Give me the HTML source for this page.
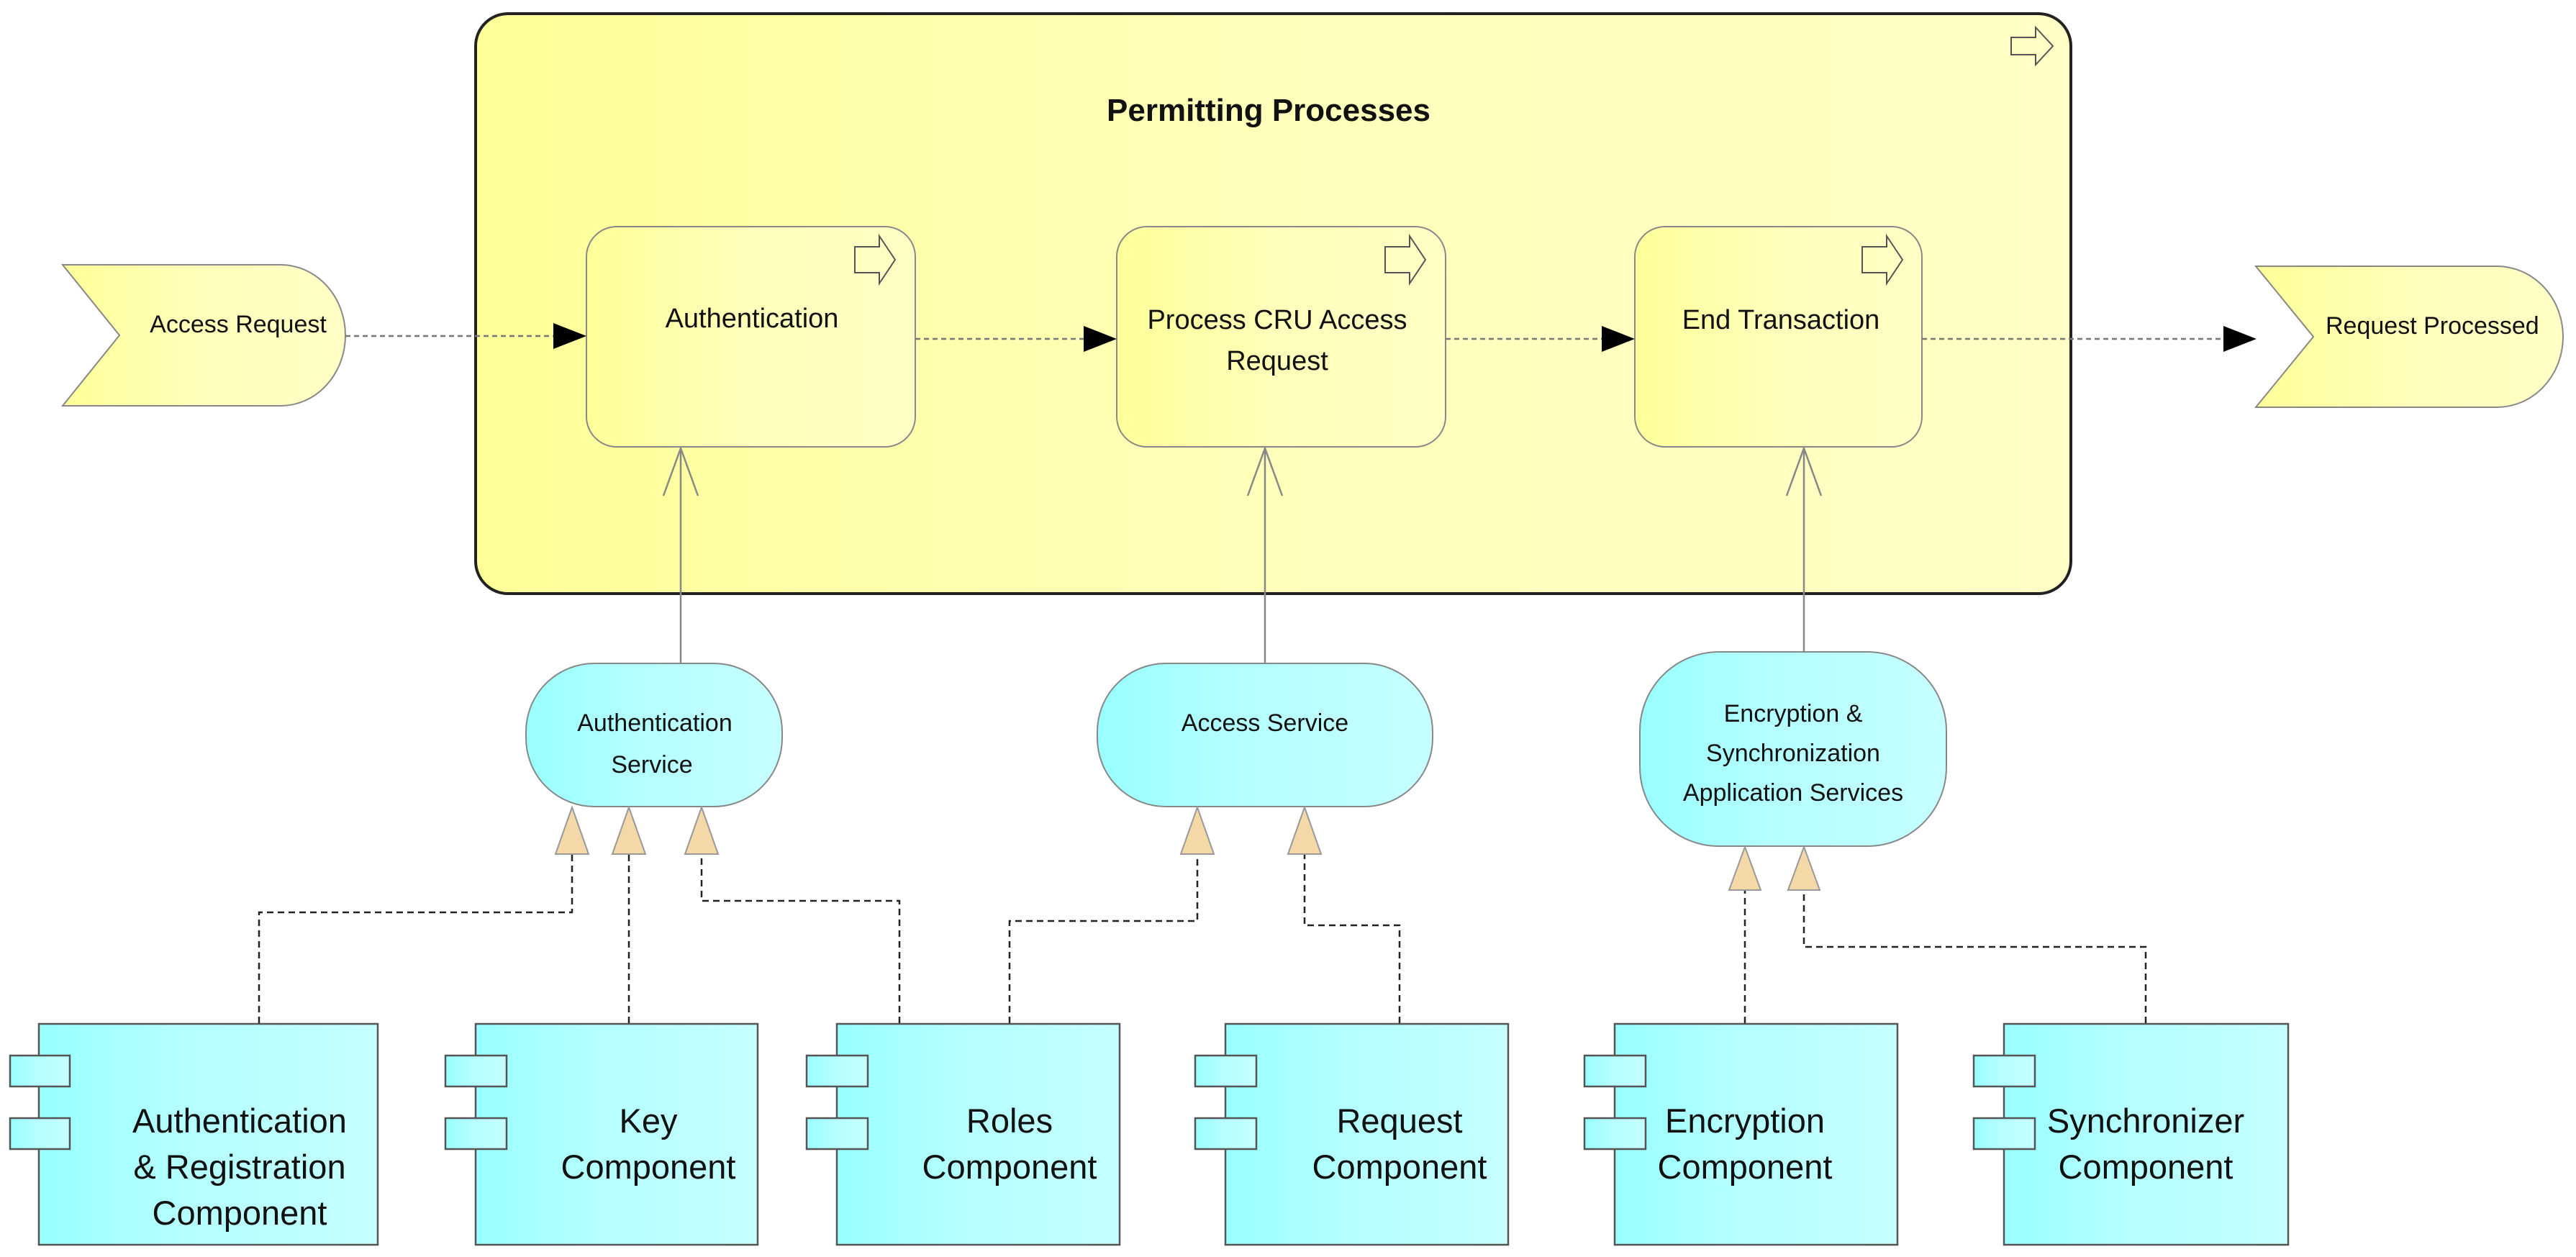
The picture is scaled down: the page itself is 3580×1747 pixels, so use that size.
<!DOCTYPE html>
<html><head><meta charset="utf-8"><style>
html,body{margin:0;padding:0;background:#fff;}
svg{display:block;}
text{font-family:"Liberation Sans Narrow","Liberation Sans",sans-serif;fill:#111;}
</style></head><body>
<svg width="3580" height="1747" viewBox="0 0 3580 1747" xmlns="http://www.w3.org/2000/svg">
<defs>
<linearGradient id="y" x1="0" x2="1" y1="0" y2="0"><stop offset="0" stop-color="#ffff99"/><stop offset="0.5" stop-color="#ffffbb"/><stop offset="1" stop-color="#ffffc6"/></linearGradient>
<linearGradient id="c" x1="0" x2="1" y1="0" y2="0"><stop offset="0" stop-color="#99ffff"/><stop offset="0.4" stop-color="#b3ffff"/><stop offset="1" stop-color="#c6ffff"/></linearGradient>
</defs>

<rect x="661" y="19" width="2217" height="806" rx="45" fill="url(#y)" stroke="#222" stroke-width="4"/>
<text x="1763" y="168" font-size="44" font-weight="bold" text-anchor="middle">Permitting Processes</text>
<path d="M2795,52 h34 v-14 l24,26 l-24,26 v-14 h-34 z" fill="none" stroke="#555" stroke-width="2"/>

<path d="M87,368 L390,368 A90,98 0 0 1 390,564 L87,564 L166,466 Z" fill="url(#y)" stroke="#888" stroke-width="2"/>
<text x="331" y="462" font-size="34" text-anchor="middle">Access Request</text>
<path d="M3135,370 L3470,370 A92,98 0 0 1 3470,566 L3135,566 L3215,468 Z" fill="url(#y)" stroke="#888" stroke-width="2"/>
<text x="3232" y="464" font-size="34">Request Processed</text>

<g stroke="#888" stroke-width="2" fill="url(#y)">
<rect x="815" y="315" width="457" height="306" rx="42"/>
<rect x="1552" y="315" width="457" height="306" rx="42"/>
<rect x="2272" y="315" width="399" height="306" rx="42"/>
</g>
<g fill="none" stroke="#555" stroke-width="2">
<path d="M1188,343 h34 v-15 l22,33 l-22,33 v-15 h-34 z"/>
<path d="M1925,343 h34 v-15 l22,33 l-22,33 v-15 h-34 z"/>
<path d="M2588,343 h34 v-15 l22,33 l-22,33 v-15 h-34 z"/>
</g>
<g font-size="38" text-anchor="middle">
<text x="1045" y="455">Authentication</text>
<text x="1775" y="457">Process CRU Access</text>
<text x="1775" y="514">Request</text>
<text x="2475" y="457">End Transaction</text>
</g>

<g stroke="#777" stroke-width="2.5" stroke-dasharray="7,5" fill="none">
<path d="M480,467 H775"/>
<path d="M1272,471 H1512"/>
<path d="M2009,471 H2232"/>
<path d="M2671,471 H3095"/>
</g>
<g fill="#000">
<path d="M769,449 L815,467 L769,485 Z"/>
<path d="M1506,453 L1552,471 L1506,489 Z"/>
<path d="M2226,453 L2272,471 L2226,489 Z"/>
<path d="M3090,453 L3136,471 L3090,489 Z"/>
</g>

<g stroke="#888" stroke-width="2.5" fill="none">
<path d="M946,623 V922"/><path d="M922,689 L946,623 L970,689"/>
<path d="M1758,623 V922"/><path d="M1734,689 L1758,623 L1782,689"/>
<path d="M2507,623 V906"/><path d="M2483,689 L2507,623 L2531,689"/>
</g>

<g stroke="#888" stroke-width="2" fill="url(#c)">
<rect x="731" y="922" width="356" height="199" rx="95" ry="95"/>
<rect x="1525" y="922" width="466" height="199" rx="95" ry="95"/>
<rect x="2279" y="906" width="426" height="270" rx="110" ry="110"/>
</g>
<g font-size="34" text-anchor="middle">
<text x="910" y="1016">Authentication</text>
<text x="906" y="1074">Service</text>
<text x="1758" y="1016">Access Service</text>
<text x="2492" y="1003">Encryption &amp;</text>
<text x="2492" y="1058">Synchronization</text>
<text x="2492" y="1113">Application Services</text>
</g>

<g stroke="#222" stroke-width="2.5" stroke-dasharray="9,6" fill="none">
<path d="M360,1422 V1268 H795 V1187"/>
<path d="M874,1422 V1187"/>
<path d="M1250,1422 V1252 H975 V1187"/>
<path d="M1403,1422 V1280 H1664 V1187"/>
<path d="M1945,1422 V1286 H1813 V1187"/>
<path d="M2425,1422 V1237"/>
<path d="M2982,1422 V1316 H2507 V1237"/>
</g>
<g fill="#f5d8a8" stroke="#999" stroke-width="2">
<path d="M795,1122 L818,1187 L772,1187 Z"/>
<path d="M874,1122 L897,1187 L851,1187 Z"/>
<path d="M975,1122 L998,1187 L952,1187 Z"/>
<path d="M1664,1122 L1687,1187 L1641,1187 Z"/>
<path d="M1813,1122 L1836,1187 L1790,1187 Z"/>
<path d="M2425,1177 L2447,1237 L2403,1237 Z"/>
<path d="M2507,1177 L2529,1237 L2485,1237 Z"/>
</g>

<g stroke="#555" stroke-width="2.5" fill="url(#c)">
<rect x="54" y="1423" width="471" height="307"/>
<rect x="14" y="1467" width="83" height="43"/><rect x="14" y="1554" width="83" height="43"/>
<rect x="661" y="1423" width="392" height="307"/>
<rect x="619" y="1467" width="85" height="43"/><rect x="619" y="1554" width="85" height="43"/>
<rect x="1163" y="1423" width="393" height="307"/>
<rect x="1121" y="1467" width="85" height="43"/><rect x="1121" y="1554" width="85" height="43"/>
<rect x="1703" y="1423" width="393" height="307"/>
<rect x="1661" y="1467" width="85" height="43"/><rect x="1661" y="1554" width="85" height="43"/>
<rect x="2244" y="1423" width="393" height="307"/>
<rect x="2202" y="1467" width="85" height="43"/><rect x="2202" y="1554" width="85" height="43"/>
<rect x="2785" y="1423" width="395" height="307"/>
<rect x="2743" y="1467" width="85" height="43"/><rect x="2743" y="1554" width="85" height="43"/>
</g>
<g font-size="47" text-anchor="middle">
<text x="333" y="1574">Authentication</text>
<text x="333" y="1638">&amp; Registration</text>
<text x="333" y="1702">Component</text>
<text x="901" y="1574">Key</text>
<text x="901" y="1638">Component</text>
<text x="1403" y="1574">Roles</text>
<text x="1403" y="1638">Component</text>
<text x="1945" y="1574">Request</text>
<text x="1945" y="1638">Component</text>
<text x="2425" y="1574">Encryption</text>
<text x="2425" y="1638">Component</text>
<text x="2982" y="1574">Synchronizer</text>
<text x="2982" y="1638">Component</text>
</g>
</svg>
</body></html>
